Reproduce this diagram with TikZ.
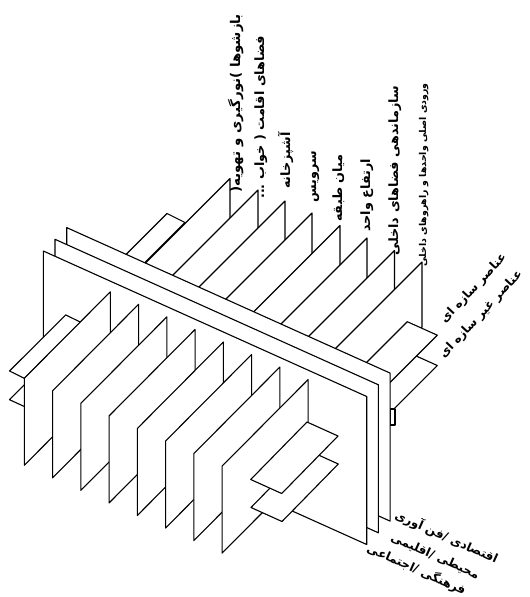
\documentclass[tikz,border=0pt]{standalone}
\usepackage{fontspec}
\newfontfamily\fa[Script=Arabic]{DejaVu Sans}
\TeXXeTstate=1
\begin{document}
\begin{tikzpicture}[x=1pt,y=-1pt,
  face/.style={draw=black, fill=white, line width=1.1pt, line join=round},
  lbl/.style={font=\fa\bfseries\fontsize{12.8}{14}\selectfont, inner sep=0pt},
  lblbig/.style={font=\fa\bfseries\fontsize{13.4}{15}\selectfont, inner sep=0pt},
  lblmid/.style={font=\fa\bfseries\fontsize{12}{14}\selectfont, inner sep=0pt},
  lblsmall/.style={font=\fa\bfseries\fontsize{9.4}{11}\selectfont, inner sep=0pt}]
\useasboundingbox (0,0) rectangle (530,597);
% back top-left slab
\draw[face] (167,213.5) -- (185,222.5) -- (135,272.5) -- (117,263.5) -- cycle;
% back transverse panels
\foreach \x/\y in {230/178.5, 258/190, 285/201, 312/213, 340/225.5, 367/238, 394.5/250.5, 422/262}{
  \draw[face] (\x,\y) -- ++(0,65) -- ++(-100,100) -- ++(0,-65) -- cycle;
}
% back right slabs
\draw[face] (407.3,352) -- (437.3,365.5) -- ++(-100,100) -- ++(-30,-13.5) -- cycle;
\draw[face] (390,409) rectangle (395,425);
\draw[face] (407.3,321.7) -- (437.3,335.2) -- ++(-100,100) -- ++(-30,-13.5) -- cycle;
% three longitudinal panels
\draw[face] (66.7,227.6) -- ++(323.4,145.5) -- ++(0,148) -- ++(-323.4,-145.5) -- cycle;
\draw[face] (55,239.3) -- ++(323.4,145.5) -- ++(0,148) -- ++(-323.4,-145.5) -- cycle;
\draw[face] (43.3,251) -- ++(323.4,145.5) -- ++(0,148) -- ++(-323.4,-145.5) -- cycle;
% front left slabs
\draw[face] (9.5,399.7) -- (24.3,406.5) -- (84.3,346.5) -- (69.5,339.7) -- cycle;
\draw[face] (9.5,371) -- (24.3,378.3) -- (80.5,322.2) -- (65.7,314.9) -- cycle;
% front transverse panels
\foreach \i in {0,...,7}{
  \pgfmathsetmacro\nx{24.3+28.25*\i}
  \pgfmathsetmacro\ny{378.3+12.55*\i}
  \draw[face] (\nx,\ny) -- ++(86,-86.5) -- ++(0,87) -- ++(-86,86.5) -- cycle;
}
% front right slabs
\draw[face] (307.3,450) -- (338.3,464) -- (282,521.5) -- (251,507.5) -- cycle;
\draw[face] (307,422) -- (338,436) -- (281.7,493.5) -- (250.7,479.5) -- cycle;
% labels of transverse panels
\node[lblbig,rotate=90,anchor=base west] (t1) at (240,193) {\beginR بازشوها )نورگیری و تهویه(\endR};
\node[lbl,rotate=90,anchor=base west] (t2) at (264,199) {\beginR فضاهای اقامت ( خواب ...\endR};
\node[lbl,rotate=90,anchor=base west] (t3) at (290,189) {\beginR آشپزخانه\endR};
\node[lbl,rotate=90,anchor=base west] (t4) at (316,203) {\beginR سرویس\endR};
\node[lbl,rotate=90,anchor=base west] (t5) at (342,222) {\beginR میان طبقه\endR};
\node[lbl,rotate=90,anchor=base west] (t6) at (370,232) {\beginR ارتفاع واحد\endR};
\node[lbl,rotate=90,anchor=base west] (t7) at (398,256) {\beginR سازماندهی فضاهای داخلی\endR};
\node[lblsmall,rotate=90,anchor=base west] (t8) at (426,267) {\beginR ورودی اصلی واحدها و راهروهای داخلی\endR};
% labels of slabs
\node[lblmid,rotate=47,anchor=base west] (s1) at (445,324) {\beginR عناصر سازه ای\endR};
\node[lblmid,rotate=47,anchor=base west] (s2) at (444,359) {\beginR عناصر غیر سازه ای\endR};
% labels of longitudinal panels
\node[lblmid,rotate=-24.2,anchor=base west] (l1) at (394,518) {\beginR اقتصادی /فن آوری\endR};
\node[lblmid,rotate=-24.2,anchor=base west] (l2) at (390,540) {\beginR محیطی /اقلیمی\endR};
\node[lblmid,rotate=-24.2,anchor=base west] (l3) at (366,551) {\beginR فرهنگی /اجتماعی\endR};
\end{tikzpicture}
\end{document}
